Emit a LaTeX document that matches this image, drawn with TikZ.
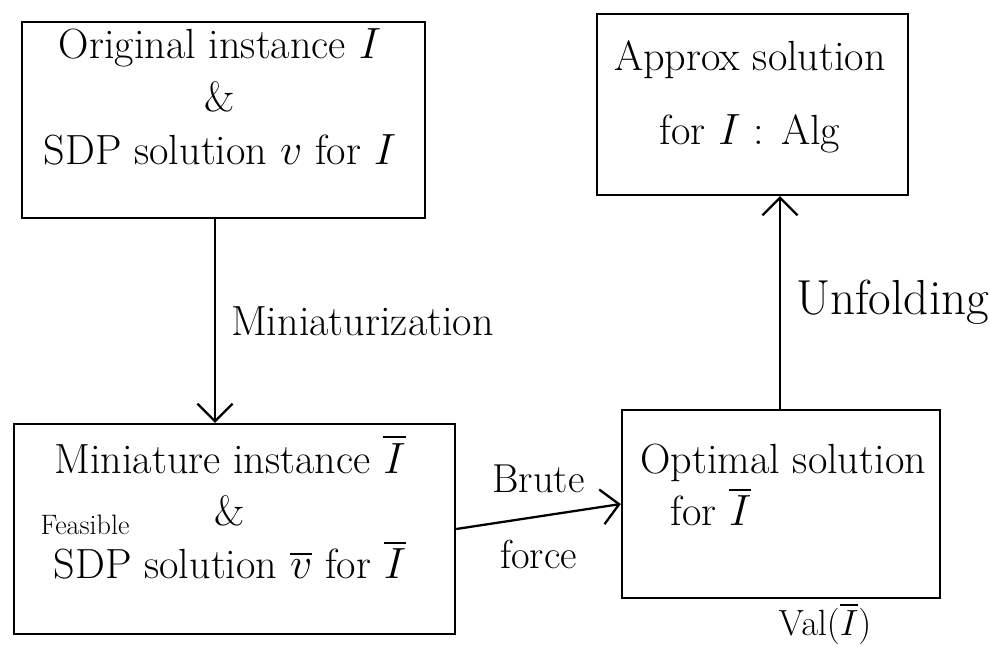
\documentclass[tikz,border=0pt]{standalone}
\usepackage{amsmath}
\usepackage{amssymb}
\usepackage{tikz}
\usetikzlibrary{positioning,arrows.meta}

\begin{document}
\begin{tikzpicture}[
    box/.style={draw, line width=1.4pt, inner sep=0pt},
    txt/.style={font=\fontsize{24}{30}\selectfont, align=center, inner sep=0pt},
    flow/.style={line width=1.3pt, -{Straight Barb[length=3.5mm,width=7mm,line width=1.3pt]}}
  ]
    \useasboundingbox (0,0) rectangle (19.78,12.92);

    % Boxes
    \node[box, minimum width=8.06cm, minimum height=3.92cm] (orig) at (4.47,10.52) {};
    \node[box, minimum width=6.22cm, minimum height=3.62cm] (apx) at (15.05,10.83) {};
    \node[box, minimum width=8.82cm, minimum height=4.2cm] (mini) at (4.69,2.34) {};
    \node[box, minimum width=6.36cm, minimum height=3.76cm] (opt) at (15.62,2.84) {};

    % Box texts
    \node[txt] (origtxt) at (4.4,10.98) {Original instance $I$\\ \&\\ SDP solution $v$ for $I$};
    \node[txt, font=\fontsize{24}{42}\selectfont] (apxtxt) at (15.0,10.98) {Approx solution\\ for $I$ : Alg};
    \node[txt] (minitxt) at (4.6,2.78) {Miniature instance $\overline{I}$\\ \&\\ SDP solution $\overline{v}$ for $\overline{I}$};
    \node[txt, font=\fontsize{16}{18}\selectfont] (feas) at (1.7,2.42) {Feasible};
    \node[txt, align=left, anchor=west] (opttxt) at (12.8,3.22) {Optimal solution\\ \hspace{0.6cm}for $\overline{I}$};

    % Arrows
    \coordinate (mx) at (4.3,0);
    \coordinate (ux) at (15.6,0);
    \draw[flow] (orig.south -| mx) -- (mini.north -| mx)
        node[txt, midway, right=0.3cm] (minlbl) {Miniaturization};
    \draw[flow] (mini.east) -- (opt.west)
        node[txt, midway, above=0.45cm, font=\fontsize{23}{30}\selectfont] (brute) {Brute}
        node[txt, midway, below=0.45cm, font=\fontsize{23}{30}\selectfont] (force) {force};
    \draw[flow] (opt.north -| ux) -- (apx.south -| ux)
        node[txt, midway, right=0.3cm, font=\fontsize{28}{30}\selectfont] (unf) {Unfolding};

    % Value below the optimal solution
    \node[txt, anchor=south, font=\fontsize{22}{26}\selectfont] (val) at (16.5,0.02) {$\mathrm{Val}(\overline{I})$};
\end{tikzpicture}
\end{document}
